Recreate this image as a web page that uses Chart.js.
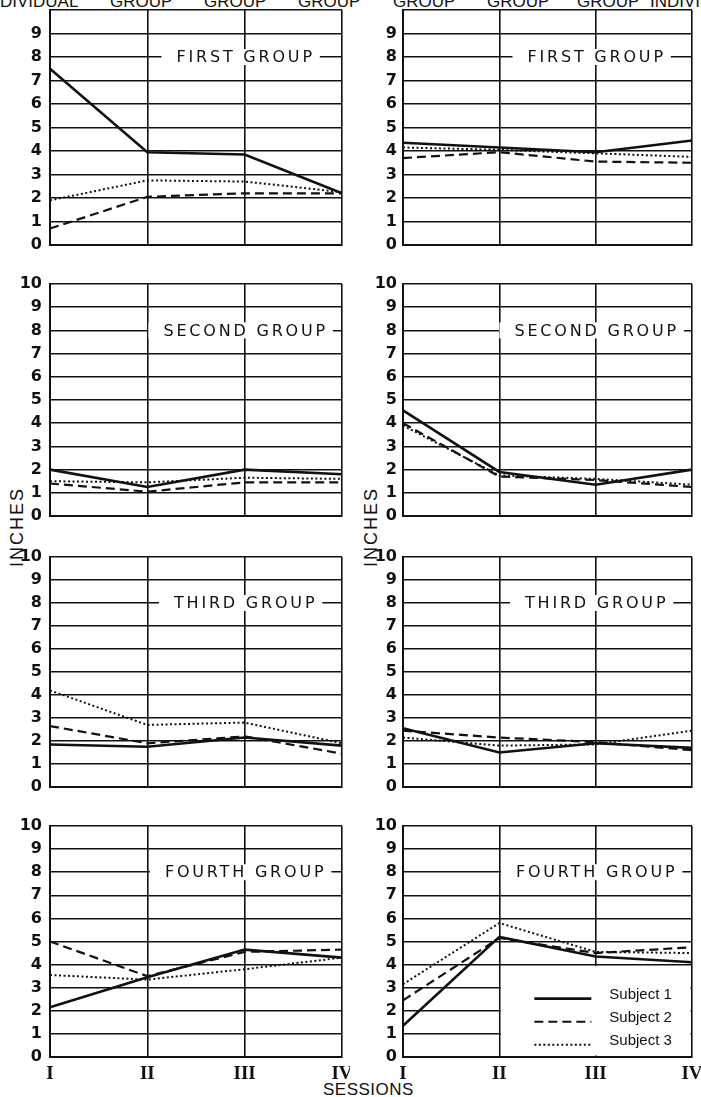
<!DOCTYPE html>
<html lang="en">
<head>
    <meta charset="UTF-8">
    <title>Inches per session</title>
    <style>
        body { margin: 0; background: #fff; }
        #page { position: relative; width: 701px; height: 1097px; overflow: hidden; background: #fff;
                font-family: "Liberation Sans", Arial, sans-serif; color: #111; }
        #page canvas { position: absolute; }
        .hdr { position: absolute; top: -7px; font-size: 17px; line-height: 1; white-space: nowrap; }
        .inches { position: absolute; font-size: 18px; letter-spacing: 2px; white-space: nowrap;
                  transform: translate(-50%, -50%) rotate(-90deg); }
        #sessions { position: absolute; left: 323px; top: 1081px; font-size: 17px; line-height: 1; letter-spacing: 0.5px; }
    </style>
</head>
<body>
<div id="page">
    <!-- column headings, cut off at the top edge -->
    <span class="hdr" style="left:-17px">INDIVIDUAL</span>
    <span class="hdr" style="left:110px">GROUP</span>
    <span class="hdr" style="left:204px">GROUP</span>
    <span class="hdr" style="left:298px">GROUP</span>
    <span class="hdr" style="left:393px">GROUP</span>
    <span class="hdr" style="left:487px">GROUP</span>
    <span class="hdr" style="left:577px">GROUP</span>
    <span class="hdr" style="left:650px">INDIVIDUAL</span>

    <div class="inches" style="left:17px; top:527px">INCHES</div>
    <div class="inches" style="left:371px; top:527px">INCHES</div>
    <div id="sessions">SESSIONS</div>
</div>

<script src="https://cdn.jsdelivr.net/npm/chart.js"></script>
<script>

    const sessions = ['I', 'II', 'III', 'IV'];
    const subjects = ['Subject 1', 'Subject 2', 'Subject 3'];
    const groupTitles = ['FIRST GROUP', 'SECOND GROUP', 'THIRD GROUP', 'FOURTH GROUP'];

    // left column
    const first_L_s1 = [7.5, 3.95, 3.85, 2.2];
    const first_L_s2 = [0.7, 2.05, 2.2, 2.2];
    const first_L_s3 = [1.9, 2.75, 2.7, 2.25];
    // right column
    const first_R_s1 = [4.35, 4.15, 3.95, 4.45];
    const first_R_s2 = [3.7, 3.95, 3.55, 3.5];
    const first_R_s3 = [4.15, 4.05, 3.9, 3.75];

    const second_L_s1 = [2.0, 1.25, 2.0, 1.8];
    const second_L_s2 = [1.4, 1.05, 1.45, 1.45];
    const second_L_s3 = [1.5, 1.45, 1.65, 1.6];
    const second_R_s1 = [4.55, 1.9, 1.35, 2.0];
    const second_R_s2 = [4.0, 1.7, 1.55, 1.25];
    const second_R_s3 = [3.9, 1.75, 1.6, 1.35];

    const third_L_s1 = [1.85, 1.75, 2.15, 1.8];
    const third_L_s2 = [2.65, 1.9, 2.2, 1.45];
    const third_L_s3 = [4.2, 2.7, 2.8, 1.9];
    const third_R_s1 = [2.55, 1.5, 1.9, 1.7];
    const third_R_s2 = [2.45, 2.15, 1.95, 1.6];
    const third_R_s3 = [2.15, 1.8, 1.85, 2.45];

    const fourth_L_s1 = [2.15, 3.45, 4.65, 4.3];
    const fourth_L_s2 = [5.0, 3.5, 4.55, 4.65];
    const fourth_L_s3 = [3.55, 3.35, 3.8, 4.3];
    const fourth_R_s1 = [1.35, 5.2, 4.35, 4.1];
    const fourth_R_s2 = [2.45, 5.15, 4.5, 4.75];
    const fourth_R_s3 = [3.15, 5.8, 4.55, 4.5];

    const panelData = [
        [[first_L_s1, first_L_s2, first_L_s3], [first_R_s1, first_R_s2, first_R_s3]],
        [[second_L_s1, second_L_s2, second_L_s3], [second_R_s1, second_R_s2, second_R_s3]],
        [[third_L_s1, third_L_s2, third_L_s3], [third_R_s1, third_R_s2, third_R_s3]],
        [[fourth_L_s1, fourth_L_s2, fourth_L_s3], [fourth_R_s1, fourth_R_s2, fourth_R_s3]]
    ];

    // solid, dashed, dotted
    const dashes = [[], [9, 5], [2, 2.5]];
    const widths = [2.6, 2.2, 2];

    // plot areas (page pixels)
    const rowTop = [10, 284, 557, 826];
    const rowBottom = [245, 516, 787, 1057];
    const colLeft = [0, 350];
    const colWidth = [350, 351];
    const yAxisWidth = [50, 53];
    const padRight = [8, 9];
    const tickPad = [8, 6];

    const ink = '#111';

    // white box + group name sitting on the 8 line
    const groupLabel = {
        id: 'groupLabel',
        afterDatasetsDraw(chart, args, opts) {
            if (!opts.text) return;
            const ctx = chart.ctx;
            const x = chart.scales.x.getPixelForValue(2);
            const y = chart.scales.y.getPixelForValue(8);
            ctx.save();
            ctx.font = '16px "DejaVu Sans"';
            ctx.letterSpacing = '2.8px';
            const w = ctx.measureText(opts.text).width;
            ctx.fillStyle = '#fff';
            ctx.fillRect(x - w / 2 - 14, y - 8, w + 20, 16);
            ctx.fillStyle = ink;
            ctx.textAlign = 'center';
            ctx.textBaseline = 'middle';
            ctx.fillText(opts.text, x + 1, y + 1);
            ctx.restore();
        }
    };

    // key drawn inside the last panel
    const subjectKey = {
        id: 'subjectKey',
        beforeDatasetsDraw(chart, args, opts) {
            if (!opts.show) return;
            const ctx = chart.ctx;
            const xs = chart.scales.x, ys = chart.scales.y;
            const x0 = xs.getPixelForValue(1) + 1.5;
            const y0 = ys.getPixelForValue(4) + 1.5;
            ctx.save();
            ctx.fillStyle = '#fff';
            ctx.fillRect(x0, y0, chart.chartArea.right - 1.5 - x0, ys.getPixelForValue(0) - 1.5 - y0);
            ctx.restore();
        },
        afterDatasetsDraw(chart, args, opts) {
            if (!opts.show) return;
            const ctx = chart.ctx;
            const xs = chart.scales.x, ys = chart.scales.y;
            const lx = xs.getPixelForValue(1) + 35;
            ctx.save();
            ctx.strokeStyle = ink;
            ctx.fillStyle = ink;
            ctx.font = '15px "Liberation Sans"';
            ctx.textBaseline = 'middle';
            chart.data.datasets.forEach((ds, i) => {
                const y = ys.getPixelForValue(2.7 - i);
                ctx.lineWidth = ds.borderWidth;
                ctx.setLineDash(ds.borderDash);
                ctx.beginPath();
                ctx.moveTo(lx, y + 4);
                ctx.lineTo(lx + 57, y + 4);
                ctx.stroke();
                ctx.setLineDash([]);
                ctx.fillText(ds.label, lx + 75, y);
            });
            ctx.restore();
        }
    };

    const page = document.getElementById('page');

    for (let row = 0; row < 4; row++) {
        for (let col = 0; col < 2; col++) {
            const last = row === 3;
            const extra = last ? 40 : 12;
            const cv = document.createElement('canvas');
            cv.width = colWidth[col];
            cv.height = rowBottom[row] - rowTop[row] + 10 + extra;
            cv.style.left = colLeft[col] + 'px';
            cv.style.top = (rowTop[row] - 10) + 'px';
            page.appendChild(cv);

            const datasets = panelData[row][col].map((vals, i) => ({
                label: subjects[i],
                data: vals,
                borderColor: ink,
                borderWidth: widths[i],
                borderDash: dashes[i],
                pointRadius: 0,
                tension: 0,
                fill: false
            }));

            new Chart(cv.getContext('2d'), {
                type: 'line',
                data: { labels: sessions, datasets: datasets },
                plugins: [groupLabel, subjectKey],
                options: {
                    responsive: false,
                    animation: false,
                    layout: { padding: { top: 10, right: padRight[col], left: 0, bottom: 0 } },
                    plugins: {
                        legend: { display: false },
                        tooltip: { enabled: false },
                        groupLabel: { text: groupTitles[row] },
                        subjectKey: { show: last && col === 1 }
                    },
                    scales: {
                        x: {
                            offset: false,
                            grid: { color: ink, lineWidth: 1.6, drawTicks: false },
                            border: { color: ink, width: 2 },
                            ticks: {
                                display: last,
                                autoSkip: false,
                                maxRotation: 0,
                                padding: 6,
                                color: ink,
                                font: { family: 'Liberation Serif', size: 19, weight: 'bold' }
                            },
                            afterFit: (s) => { s.height = extra; s.paddingLeft = 0; s.paddingRight = 0; }
                        },
                        y: {
                            min: 0,
                            max: 10,
                            grid: { color: ink, lineWidth: 1.6, drawTicks: false },
                            border: { color: ink, width: 2 },
                            ticks: {
                                stepSize: 1,
                                padding: tickPad[col],
                                color: ink,
                                font: { family: 'DejaVu Sans', size: 16, weight: 'bold' },
                                callback: (v) => (row === 0 && v === 10) ? '' : v
                            },
                            afterFit: (s) => { s.width = yAxisWidth[col]; s.paddingTop = 0; s.paddingBottom = 0; }
                        }
                    }
                }
            });
        }
    }

</script>
</body>
</html>
